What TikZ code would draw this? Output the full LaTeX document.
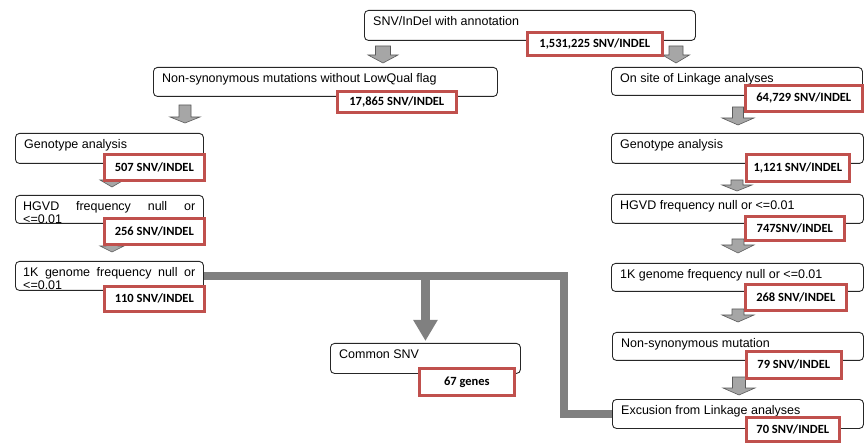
\documentclass[tikz,border=0pt]{standalone}
\usepackage{fontspec}
\setmainfont{Liberation Sans}
\newfontfamily\calfont{Carlito}
\usetikzlibrary{calc,arrows.meta}
\definecolor{redb}{HTML}{C0504D}
\definecolor{arrfill}{HTML}{A6A6A6}
\definecolor{arrline}{HTML}{5A5A5A}
\definecolor{connc}{HTML}{808080}
\newcommand\stagebox[6]{%
  \node[box, minimum width=#4pt, minimum height=#5pt] (#1) at (#2,#3) {};
  \node[lbl] (#1t) at ($(#1.north west)+(9,6.5)$) {#6};}
\newcommand\stageboxtwo[6]{%
  \node[box, minimum width=#4pt, minimum height=#5pt] (#1) at (#2,#3) {};
  \node[lbl, text width=172pt, align=justify] (#1t) at ($(#1.north west)+(8,6.5)$) {#6};}
\newcommand\countbox[6]{%
  \node[cnt, minimum width=#4pt, minimum height=#5pt] (#1) at (#2,#3) {#6};}
% cx, ytop, yhead, ytip, shaft width, head width
\newcommand\blockarr[6]{%
  \draw[barrow] ({#1-#5/2},#2) -- ({#1+#5/2},#2) -- ({#1+#5/2},#3) -- ({#1+#6/2},#3)
    -- (#1,#4) -- ({#1-#6/2},#3) -- ({#1-#5/2},#3) -- cycle;}
\begin{document}
\begin{tikzpicture}[x=1pt,y=-1pt,
  box/.style={draw=black!85, line width=0.9pt, rounded corners=4pt, anchor=north west, inner sep=0pt, fill=white},
  lbl/.style={anchor=north west, inner sep=0pt, font=\fontsize{12.5}{13}\selectfont},
  cnt/.style={draw=redb, line width=2.6pt, fill=white, anchor=north west, inner sep=0pt,
    font=\calfont\bfseries\fontsize{12.5}{13}\selectfont},
  barrow/.style={fill=arrfill, draw=arrline, line width=0.6pt, line join=miter},
  conn/.style={draw=connc, line width=8.5pt, line join=miter}]
\useasboundingbox (0,0) rectangle (867,443);

% stage boxes
\stagebox{t}{364}{10}{331}{30}{SNV/InDel with annotation}
\stagebox{b2}{153}{67}{344}{29}{Non-synonymous mutations without LowQual flag}
\stagebox{b3}{611}{67}{251}{28}{On site of Linkage analyses}
\stagebox{l1}{15}{133}{188}{30}{Genotype analysis}
\stageboxtwo{l2}{15}{195}{188}{28}{HGVD frequency null or\linebreak <=0.01}
\stageboxtwo{l3}{15}{261}{188}{29}{1K genome frequency null or\linebreak <=0.01}
\stagebox{r1}{611}{133}{252}{30}{Genotype analysis}
\stagebox{r2}{611}{194}{252}{29}{HGVD frequency null or <=0.01}
\stagebox{r3}{611}{263}{252}{28}{1K genome frequency null or <=0.01}
\stagebox{r4}{612}{332}{251}{28}{Non-synonymous mutation}
\stagebox{r5}{612}{399}{251}{29}{Excusion from Linkage analyses}
\stagebox{c}{330}{343}{190}{30}{Common SNV}

% block arrows
\blockarr{383}{46}{55}{63}{15}{30}
\blockarr{676}{46}{55}{63}{14}{27}
\blockarr{185}{105}{117}{123}{12}{30}
\blockarr{738}{107}{118}{125}{11}{32}
\blockarr{112}{170}{180}{187}{12}{24}
\blockarr{112}{238}{246}{252}{12}{24}
\blockarr{737}{180}{185}{191}{12}{30}
\blockarr{738}{239}{245}{253}{12}{32}
\blockarr{738}{309}{315}{322}{12}{32}
\blockarr{739}{377}{388}{395}{13}{32}

% thick connectors
\draw[conn] (l3.east) -| ($(r5.west)+(-48,0)$) -- (r5.west);
\draw[conn, line width=9pt, shorten >=2pt, -{Triangle[length=21pt,width=23pt]}]
  (c.north |- l3.east) -- (c.north);

% count boxes
\countbox{tn}{526}{31}{135}{23}{1,531,225 SNV/INDEL}
\countbox{b2n}{336}{90}{119}{21}{17,865 SNV/INDEL}
\countbox{b3n}{744}{84}{117}{26}{64,729 SNV/INDEL}
\countbox{l1n}{103}{153}{100}{26}{507 SNV/INDEL}
\countbox{l2n}{103}{217}{100}{26}{256 SNV/INDEL}
\countbox{l3n}{103}{285}{100}{25}{110 SNV/INDEL}
\countbox{r1n}{745}{153}{103}{27}{1,121 SNV/INDEL}
\countbox{r2n}{744}{215}{99}{24}{747SNV/INDEL}
\countbox{r3n}{744}{283}{101}{26}{268 SNV/INDEL}
\countbox{r4n}{745}{350}{95}{27}{79 SNV/INDEL}
\countbox{r5n}{745}{416}{93}{24}{70 SNV/INDEL}
\countbox{cn}{418}{367}{95}{27}{67 genes}
\end{tikzpicture}
\end{document}
